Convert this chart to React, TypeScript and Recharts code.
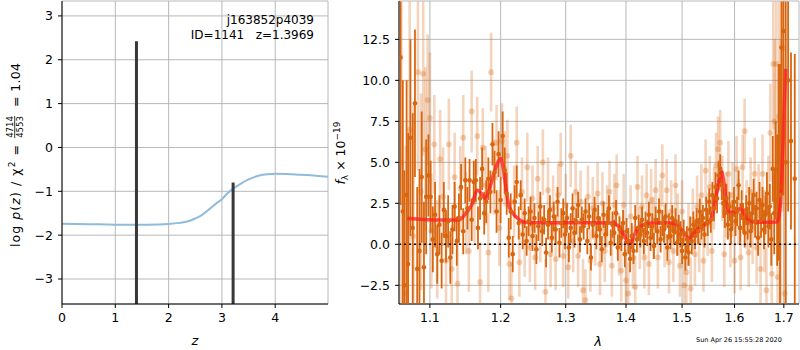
import React from "react";
import {
  ComposedChart,
  Line,
  Scatter,
  ErrorBar,
  XAxis,
  YAxis,
  CartesianGrid,
  ReferenceLine,
} from "recharts";

// ---- left panel: log p(z)
const zGrid = [0, 0.5, 1.0, 1.4, 1.8, 2.0, 2.2, 2.4, 2.5, 2.6, 2.75, 2.9, 3.0, 3.1, 3.2, 3.35, 3.5, 3.7, 3.85, 4.0, 4.3, 4.6, 4.99];
const logPz = [-1.74, -1.75, -1.76, -1.76, -1.755, -1.745, -1.72, -1.67, -1.62, -1.56, -1.42, -1.27, -1.18, -1.05, -0.95, -0.83, -0.73, -0.64, -0.61, -0.6, -0.61, -0.63, -0.67];
const peakZ = [1.397, 3.21];
const peakTop = [2.42, -0.8];
const zTicks = [0, 1, 2, 3, 4];
const logpTicks = [-3, -2, -1, 0, 1, 2, 3];
const zDomain = [0, 4.99];
const logpDomain = [-3.57, 3.34];

// ---- right panel: spectrum
const lamTicks = [1.1, 1.2, 1.3, 1.4, 1.5, 1.6, 1.7];
const fluxTicks = [-2.5, 0, 2.5, 5, 7.5, 10, 12.5];
const lamDomain = [1.059, 1.732];
const fluxDomain = [-3.64, 14.84];

const darkLam = [
  1.061, 1.064, 1.066, 1.069, 1.071, 1.074, 1.077, 1.080, 1.083, 1.086, 1.089, 1.092, 1.095,
  1.098, 1.101, 1.104, 1.107, 1.110, 1.113, 1.116, 1.119, 1.122, 1.125, 1.128, 1.131, 1.134, 1.137, 1.140,
  1.143, 1.146, 1.149, 1.152, 1.155, 1.158, 1.161, 1.164, 1.167, 1.170, 1.173, 1.176, 1.179, 1.182, 1.185, 1.188, 1.191, 1.194, 1.197,
  1.200, 1.203, 1.206, 1.209, 1.212, 1.215, 1.218, 1.221, 1.224, 1.227, 1.230, 1.233, 1.236, 1.239, 1.242, 1.245, 1.248,
  1.251, 1.254, 1.257, 1.260, 1.263, 1.266, 1.269, 1.272, 1.275, 1.278, 1.281, 1.284, 1.287, 1.290, 1.293, 1.296, 1.299,
  1.302, 1.305, 1.308, 1.311, 1.314, 1.317, 1.320, 1.323, 1.326, 1.329, 1.332, 1.335, 1.338, 1.341, 1.344, 1.347, 1.350,
  1.353, 1.356, 1.359, 1.362, 1.365, 1.368, 1.371, 1.374, 1.377, 1.380, 1.383, 1.386, 1.389, 1.392, 1.395, 1.398, 1.401,
  1.404, 1.407, 1.410, 1.413, 1.416, 1.419, 1.422, 1.425, 1.428, 1.431, 1.434, 1.437, 1.440, 1.443, 1.446, 1.449, 1.452,
  1.455, 1.458, 1.461, 1.464, 1.467, 1.470, 1.473, 1.476, 1.479, 1.482, 1.485, 1.488, 1.491, 1.494, 1.497, 1.500, 1.503,
  1.506, 1.509, 1.512, 1.515, 1.518, 1.521, 1.524, 1.527, 1.530, 1.533, 1.536, 1.539, 1.542, 1.545, 1.548, 1.551, 1.554,
  1.557, 1.560, 1.563, 1.566, 1.569, 1.572, 1.575, 1.578, 1.581, 1.584, 1.587, 1.590, 1.593, 1.596, 1.599, 1.602, 1.605,
  1.608, 1.611, 1.614, 1.617, 1.620, 1.623, 1.626, 1.629, 1.632, 1.635, 1.638, 1.641, 1.644, 1.647, 1.650, 1.653, 1.656,
  1.659, 1.662, 1.665, 1.668, 1.671, 1.674, 1.677, 1.680, 1.683, 1.686, 1.689, 1.692, 1.695, 1.699, 1.704, 1.709, 1.715, 1.723,
];
const darkFlux = [
  11.4, 2.0, -2.5, 3.0, -1.2, 6.5, 1.0, 8.6, -1.5, -0.4, 4.1, -1.4, 2.9,
  4.2, 2.9, 0.3, 1.8, -0.6, 1.2, -1.0, 2.1, 0.5, 1.4, -0.8, 0.9, 2.3, 0.2, 1.6,
  3.5, 0.8, 3.9, 2.2, 3.9, 1.5, 3.8, 3.9, 1.0, 2.8, 4.6, 1.9, 2.6, 4.0, 3.2, 6.1, 4.4, 2.0, 5.5,
  2.7, 6.6, 4.5, 3.1, 0.4, 2.0, -0.6, 2.6, 3.8, 1.3, 3.0, 0.6, 1.9, 0.2, 1.4, 2.0, 0.5,
  1.6, -0.3, 1.1, 2.3, 0.8, 1.5, -0.5, 1.2, 2.1, 0.4, 1.7, 0.9, 2.6, 0.1, 1.3, 1.9, 0.6,
  1.6, -0.2, 1.0, 2.2, 0.7, 1.4, 2.4, 0.3, 1.5, 1.1, 2.0, 0.2, 1.7, -0.8, 1.2, 2.1, 0.5,
  1.6, 0.9, -0.3, 1.8, 0.6, 1.3, 2.2, 0.1, 1.2, 0.7, 1.9, -0.2, 0.9, 0.4, 1.3, -0.6, 0.8,
  0.2, -0.9, 0.5, -0.4, 1.6, 0.3, 1.0, 0.6, 1.5, 0.2, 1.2, 0.7, 1.8, 0.4, 1.1, -0.1, 1.5,
  0.8, 2.0, 0.3, 1.3, 0.9, 1.7, -0.2, 1.1, 0.5, 1.6, 0.8, 1.4, 0.1, 1.0, 0.6, -0.4, 0.7,
  -0.8, 0.3, -0.5, 0.9, 0.2, 1.2, 0.5, 1.4, 0.8, 2.0, 1.1, 1.6, 0.6, 2.1, 1.3, 2.6, 1.5,
  3.0, 2.2, 3.5, 2.8, 4.2, 4.6, 3.6, 2.5, 1.9, 2.8, 1.2, 2.3, 0.9, 1.8, 2.6, 1.4, 2.0,
  3.6, 1.0, 2.4, 1.6, 0.7, 2.1, 1.3, 2.5, 0.8, 1.9, 3.0, 1.4, 2.2, 0.4, 2.7, 1.5, 2.4,
  0.9, 1.8, 3.1, 1.1, 2.3, 0.3, 4.6, 1.9, 4.5, 2.7, 5.0, 3.0, 12.0, 13.0, 5.0, 10.0, 6.3, 4.0,
];
const darkErr = [
  9, 8, 7, 7, 8, 6, 7, 4.5, 5, 5, 4, 4, 3.5,
  2.5, 2.2, 2.0, 2.0, 1.8, 1.8, 1.7, 1.7, 1.6, 1.6, 1.6, 1.5, 1.5, 1.5, 1.5,
  1.4, 1.4, 1.4, 1.3, 1.3, 1.3, 1.3, 1.3, 1.3, 1.3, 1.3, 1.3, 1.3, 1.3, 1.3, 1.3, 1.3, 1.3, 1.4,
  1.4, 1.5, 1.4, 1.3, 1.2, 1.1, 1.1, 1.0, 1.0, 1.0, 0.9, 0.9, 0.9, 0.9, 0.9, 0.9, 0.9,
  0.9, 0.9, 0.9, 0.9, 0.9, 0.9, 0.9, 0.9, 0.9, 0.9, 0.9, 0.9, 0.9, 0.9, 0.9, 0.9, 0.9,
  0.9, 0.9, 0.9, 0.9, 0.9, 0.8, 0.8, 0.8, 0.8, 0.8, 0.8, 0.8, 0.8, 0.8, 0.8, 0.8, 0.8,
  0.8, 0.8, 0.8, 0.8, 0.8, 0.8, 0.8, 0.8, 0.8, 0.8, 0.8, 0.8, 0.8, 0.8, 0.8, 0.8, 0.8,
  0.8, 0.8, 0.8, 0.8, 0.8, 0.8, 0.8, 0.8, 0.8, 0.8, 0.8, 0.8, 0.8, 0.8, 0.8, 0.8, 0.8,
  0.8, 0.8, 0.8, 0.8, 0.8, 0.8, 0.8, 0.8, 0.8, 0.8, 0.8, 0.8, 0.8, 0.8, 0.8, 0.8, 0.8,
  0.8, 0.8, 0.8, 0.8, 0.8, 0.8, 0.8, 0.8, 0.8, 0.8, 0.8, 0.8, 0.8, 0.8, 0.8, 0.8, 0.8,
  0.8, 0.8, 0.9, 0.9, 0.9, 0.9, 0.9, 0.9, 0.9, 0.9, 0.9, 0.9, 0.9, 0.9, 0.9, 0.9, 0.9,
  0.9, 0.9, 0.9, 0.9, 0.9, 0.9, 1.0, 1.0, 1.0, 1.0, 1.0, 1.0, 1.0, 1.1, 1.1, 1.1, 1.1,
  1.2, 1.2, 1.3, 1.3, 1.4, 1.6, 2.0, 2.5, 3.0, 4, 6, 8, 9, 10, 12, 8, 5.4, 7.6,
];

const lightLam = [
  1.062, 1.068, 1.073, 1.078, 1.084, 1.088, 1.091, 1.094, 1.097, 1.100, 1.102, 1.106, 1.110, 1.114, 1.118,
  1.122, 1.126, 1.130, 1.134, 1.138, 1.142, 1.146, 1.150, 1.154, 1.158, 1.162, 1.166, 1.170, 1.174, 1.178,
  1.182, 1.186, 1.190, 1.194, 1.198, 1.202, 1.206, 1.210, 1.213, 1.216, 1.220, 1.224, 1.228, 1.232, 1.236,
  1.240, 1.244, 1.248, 1.252, 1.256, 1.260, 1.264, 1.268, 1.272, 1.276, 1.280, 1.284, 1.288, 1.292, 1.296,
  1.300, 1.304, 1.308, 1.312, 1.316, 1.320, 1.324, 1.328, 1.332, 1.336, 1.340, 1.344, 1.348, 1.352, 1.356,
  1.360, 1.364, 1.368, 1.372, 1.376, 1.380, 1.384, 1.388, 1.392, 1.396, 1.400, 1.404, 1.408, 1.412, 1.416,
  1.420, 1.424, 1.428, 1.432, 1.436, 1.440, 1.444, 1.448, 1.452, 1.456, 1.460, 1.464, 1.468, 1.472, 1.476,
  1.480, 1.484, 1.488, 1.492, 1.496, 1.500, 1.504, 1.508, 1.512, 1.516, 1.520, 1.524, 1.528, 1.532, 1.536,
  1.540, 1.544, 1.548, 1.552, 1.556, 1.560, 1.564, 1.568, 1.572, 1.576, 1.580, 1.584, 1.588, 1.592, 1.596,
  1.600, 1.604, 1.608, 1.612, 1.616, 1.620, 1.624, 1.628, 1.632, 1.636, 1.640, 1.644, 1.648, 1.652, 1.656,
  1.660, 1.664, 1.668, 1.672, 1.675, 1.678, 1.681, 1.684, 1.687, 1.690, 1.694, 1.698, 1.702,
];
const lightFlux = [
  5.0, -3.0, 7.0, 0.5, 10.5, 3.2, 10.4, 5.8, 8.8, 7.7, 0.8, 6.1, -0.3, 5.2, 2.9,
  -1.0, 6.1, -1.5, 4.1, -2.4, 3.4, 6.5, 1.9, -0.4, 8.1, 2.6, 6.6, -2.3, 5.9, 3.6,
  -0.5, 10.5, 4.1, 6.2, 1.0, 6.3, 4.6, 5.4, -1.2, -3.3, 2.6, 6.2, -1.1, 3.2, 0.1,
  4.7, -0.2, 2.8, -0.8, 4.0, 0.9, 5.0, -2.9, 3.3, -0.6, 2.2, -0.9, 3.0, 4.9, -0.7,
  2.4, -1.4, 5.4, 0.2, 3.2, -0.7, 2.6, -2.8, -3.4, 2.9, -1.0, 2.2, 0.6, 3.1, -1.2,
  2.5, -0.4, 1.7, 3.2, -1.3, 2.4, 3.6, 0.0, -1.6, 2.4, -2.2, -3.0, 1.7, -0.8, -2.6,
  3.5, 0.4, 2.3, -0.8, 3.0, -1.2, 2.7, 1.0, 3.3, -0.8, 2.0, 4.2, 0.5, 3.3, -1.1,
  2.0, -0.4, 3.6, 1.2, -1.3, 2.0, -2.5, -1.7, 0.6, -2.7, 1.5, -0.6, 2.3, 0.2, 3.0,
  -1.0, 4.5, 1.2, 3.5, -0.4, 2.8, 4.8, 5.8, 6.2, 3.4, -0.6, 2.4, 4.3, 0.6, 3.0,
  -1.0, 4.6, 2.0, -0.8, 4.7, 6.9, 1.8, -0.5, 3.2, 1.0, 4.3, -0.2, 2.6, -1.5, 4.3,
  0.8, -2.8, 2.7, 6.8, -1.8, 11.0, 7.5, 11.0, -2.0, 7.8, 3.5, 12.0, -3.0,
];
const lightErr = [
  10, 9, 8, 8, 6, 6, 5, 5, 4, 4, 3.5, 3, 3, 3, 3,
  2.8, 2.8, 2.7, 2.7, 2.6, 2.6, 2.6, 2.5, 2.5, 2.5, 2.5, 2.4, 2.4, 2.4, 2.4,
  2.4, 2.4, 2.3, 2.3, 2.3, 2.3, 2.3, 2.2, 2.2, 2.2, 2.2, 2.2, 2.1, 2.1, 2.1,
  2.1, 2.1, 2.0, 2.0, 2.0, 2.0, 2.0, 2.0, 2.0, 2.0, 2.0, 1.9, 1.9, 1.9, 1.9,
  1.9, 1.9, 1.9, 1.9, 1.9, 1.9, 1.9, 1.9, 1.9, 1.9, 1.9, 1.9, 1.9, 1.9, 1.9,
  1.9, 1.9, 1.9, 1.9, 1.9, 1.9, 1.9, 1.9, 1.9, 1.9, 1.9, 1.9, 1.9, 1.9, 1.9,
  1.9, 1.9, 1.9, 1.9, 1.9, 1.9, 1.9, 1.9, 1.9, 1.9, 1.9, 1.9, 1.9, 1.9, 1.9,
  1.9, 1.9, 1.9, 1.9, 1.9, 1.9, 1.9, 1.9, 1.9, 1.9, 1.9, 1.9, 1.9, 1.9, 1.9,
  1.9, 1.9, 1.9, 1.9, 1.9, 1.9, 2.0, 2.0, 2.0, 2.0, 2.0, 2.0, 2.0, 2.0, 2.0,
  2.0, 2.0, 2.0, 2.0, 2.0, 2.0, 2.1, 2.1, 2.1, 2.2, 2.2, 2.2, 2.3, 2.3, 2.4,
  2.5, 2.6, 2.7, 3, 3.5, 4, 5, 6, 7, 8, 9, 10, 10,
];

// red model curve
const modelLam = [
  1.07, 1.09, 1.12, 1.14, 1.15, 1.158, 1.166, 1.172, 1.177, 1.183, 1.19, 1.196, 1.2, 1.204, 1.208,
  1.212, 1.218, 1.225, 1.235, 1.26, 1.3, 1.34, 1.378, 1.388, 1.396, 1.406, 1.414, 1.422, 1.432, 1.445,
  1.465, 1.48, 1.49, 1.5, 1.508, 1.513, 1.52, 1.53, 1.545, 1.553, 1.56, 1.566, 1.571, 1.575, 1.579,
  1.585, 1.592, 1.6, 1.606, 1.611, 1.617, 1.625, 1.635, 1.655, 1.686, 1.692, 1.697, 1.701, 1.704,
];
const modelFlux = [
  1.58, 1.52, 1.48, 1.48, 1.9, 2.4, 3.3, 3.1, 2.8, 3.3, 4.3, 5.0, 5.24, 4.6, 3.4,
  2.4, 1.9, 1.6, 1.35, 1.32, 1.31, 1.31, 1.3, 1.05, 0.6, 0.0, 0.55, 1.0, 1.2, 1.3,
  1.32, 1.3, 1.2, 0.85, 0.5, 0.37, 0.6, 0.95, 1.25, 1.45, 2.2, 3.2, 4.1, 4.43, 3.8,
  2.4, 1.95, 1.93, 2.05, 2.2, 1.95, 1.55, 1.37, 1.34, 1.36, 2.2, 5.0, 8.5, 10.7,
];

const darkData = darkLam.map((lam, i) => ({ lam, f: darkFlux[i], e: darkErr[i] }));
const lightData = lightLam.map((lam, i) => ({ lam, f: lightFlux[i], e: lightErr[i] }));
const modelData = modelLam.map((lam, i) => ({ lam, f: modelFlux[i] }));
const pzData = zGrid.map((z, i) => ({ z, v: logPz[i] }));
const peakData = peakZ.map((z, i) => [
  { z, v: logpDomain[0] },
  { z, v: peakTop[i] },
]);

const FONT = "DejaVu Sans";
const ORANGE = "#d9660e";
const tickStyle = { fontSize: 12.5, fill: "#000", fontFamily: FONT };
const minus = (s: string) => s.replace("-", "\u2212");

const DarkDot = (p: any) => <circle cx={p.cx} cy={p.cy} r={2.3} fill={ORANGE} />;
const LightDot = (p: any) => (
  <circle cx={p.cx} cy={p.cy} r={2.9} fill={ORANGE} fillOpacity={0.3} />
);

const specMargin = { top: 1, right: 1, bottom: 16, left: 0 };

export default function App() {
  return (
    <div
      style={{
        position: "absolute",
        left: 0,
        top: 0,
        width: 800,
        height: 350,
        background: "#fff",
        fontFamily: FONT,
      }}
    >
      {/* p(z) panel */}
      <div style={{ position: "absolute", left: 0, top: 0 }}>
        <ComposedChart width={340} height={350} margin={{ top: 1, right: 12, bottom: 16, left: 0 }}>
          <CartesianGrid stroke="#b0b0b0" strokeWidth={0.9} />
          <XAxis
            dataKey="z"
            type="number"
            domain={zDomain}
            ticks={zTicks}
            allowDataOverflow
            height={30}
            tickSize={4}
            tickMargin={5}
            tick={tickStyle}
            stroke="#000"
          />
          <XAxis xAxisId="top" orientation="top" type="number" domain={[0, 1]} height={0} tick={false} tickLine={false} stroke="#000" />
          <YAxis
            type="number"
            domain={logpDomain}
            ticks={logpTicks}
            allowDataOverflow
            width={62}
            tickSize={4}
            tickMargin={5}
            tick={tickStyle}
            tickFormatter={(v: number) => minus(String(v))}
            stroke="#000"
          />
          <YAxis yAxisId="right" orientation="right" type="number" domain={[0, 1]} width={0} tick={false} tickLine={false} stroke="#000" />
          <Line
            data={pzData}
            dataKey="v"
            type="monotone"
            stroke="#8fbbdc"
            strokeWidth={2}
            dot={false}
            isAnimationActive={false}
          />
          {peakData.map((d, i) => (
            <Line
              key={i}
              data={d}
              dataKey="v"
              stroke="#383838"
              strokeWidth={3}
              dot={false}
              isAnimationActive={false}
            />
          ))}
        </ComposedChart>
      </div>

      {/* spectrum panel: axes + grid */}
      <div style={{ position: "absolute", left: 340, top: 0 }}>
        <ComposedChart width={460} height={350} margin={specMargin}>
          <CartesianGrid stroke="#b0b0b0" strokeWidth={0.9} />
          <XAxis
            dataKey="lam"
            type="number"
            scale="log"
            domain={lamDomain}
            ticks={lamTicks}
            allowDataOverflow
            height={30}
            tickSize={4}
            tickMargin={5}
            tick={tickStyle}
            stroke="#000"
          />
          <XAxis xAxisId="top" orientation="top" type="number" domain={[0, 1]} height={0} tick={false} tickLine={false} stroke="#000" />
          <YAxis
            dataKey="f"
            type="number"
            domain={fluxDomain}
            ticks={fluxTicks}
            allowDataOverflow
            width={59}
            tickSize={4}
            tickMargin={5}
            tick={tickStyle}
            tickFormatter={(v: number) => minus(v.toFixed(1))}
            stroke="#000"
          />
          <YAxis yAxisId="right" orientation="right" type="number" domain={[0, 1]} width={0} tick={false} tickLine={false} stroke="#000" />
          <Line data={modelData} dataKey="f" stroke="none" dot={false} isAnimationActive={false} />
        </ComposedChart>
      </div>

      {/* spectrum panel: data, clipped to the plot area */}
      <div
        style={{
          position: "absolute",
          left: 340,
          top: 0,
          clipPath: "inset(1.5px 1.5px 46.5px 59.5px)",
        }}
      >
        <ComposedChart width={460} height={350} margin={specMargin}>
          <XAxis
            dataKey="lam"
            type="number"
            scale="log"
            domain={lamDomain}
            ticks={lamTicks}
            allowDataOverflow
            height={30}
            tick={false}
            tickLine={false}
            axisLine={false}
          />
          <XAxis xAxisId="top" orientation="top" type="number" domain={[0, 1]} height={0} tick={false} tickLine={false} axisLine={false} />
          <YAxis
            dataKey="f"
            type="number"
            domain={fluxDomain}
            ticks={fluxTicks}
            allowDataOverflow
            width={59}
            tick={false}
            tickLine={false}
            axisLine={false}
          />
          <YAxis yAxisId="right" orientation="right" type="number" domain={[0, 1]} width={0} tick={false} tickLine={false} axisLine={false} />
          <Scatter data={lightData} shape={LightDot} isAnimationActive={false}>
            <ErrorBar dataKey="e" direction="y" width={0} stroke="rgba(217,102,14,0.28)" strokeWidth={2.6} />
          </Scatter>
          <Scatter data={darkData} shape={DarkDot} isAnimationActive={false}>
            <ErrorBar dataKey="e" direction="y" width={0} stroke={ORANGE} strokeWidth={1.8} />
          </Scatter>
          <Line
            data={modelData}
            dataKey="f"
            type="monotone"
            stroke="#ff1f1f"
            strokeOpacity={0.78}
            strokeWidth={3.5}
            dot={false}
            isAnimationActive={false}
          />
          <ReferenceLine y={0} stroke="#000" strokeWidth={1.6} strokeDasharray="2 3" />
        </ComposedChart>
      </div>

      {/* labels */}
      <svg
        width={800}
        height={350}
        style={{ position: "absolute", left: 0, top: 0, pointerEvents: "none" }}
        fontFamily={FONT}
      >
        <text x={314} y={24} textAnchor="end" fontSize={12}>
          j163852p4039
        </text>
        <text x={314} y={39} textAnchor="end" fontSize={12} style={{ whiteSpace: "pre" }}>
          ID=1141   z=1.3969
        </text>
        <text x={195} y={345} textAnchor="middle" fontSize={13} fontStyle="italic">
          z
        </text>
        <text x={598} y={346} textAnchor="middle" fontSize={13} fontStyle="italic">
          λ
        </text>
        <text x={696} y={342} fontSize={6.5}>
          Sun Apr 26 15:55:28 2020
        </text>
        <g transform="translate(20,155) rotate(-90)" fontSize={12.5}>
          <text x={-92} y={0} textLength={102} lengthAdjust="spacing" style={{ whiteSpace: "pre" }}>
            {"log "}
            <tspan fontStyle="italic">p</tspan>
            {"("}
            <tspan fontStyle="italic">z</tspan>
            {") / χ"}
            <tspan fontSize={9} dy={-5}>2</tspan>
            <tspan dy={5}>{" ="}</tspan>
          </text>
          <text x={28} y={-7} textAnchor="middle" fontSize={8.5}>
            4714
          </text>
          <line x1={17} x2={39} y1={-5.3} y2={-5.3} stroke="#000" strokeWidth={0.8} />
          <text x={28} y={2.5} textAnchor="middle" fontSize={8.5}>
            4553
          </text>
          <text x={48} y={0} textLength={44} lengthAdjust="spacing" style={{ whiteSpace: "pre" }}>
            = 1.04
          </text>
        </g>
        <g transform="translate(345,153) rotate(-90)" fontSize={12.5}>
          <text x={0} y={0} textAnchor="middle">
            <tspan fontStyle="italic">f</tspan>
            <tspan fontSize={9} dy={3}>λ</tspan>
            <tspan dy={-3}>{" × 10"}</tspan>
            <tspan fontSize={9} dy={-5}>−19</tspan>
          </text>
        </g>
      </svg>
    </div>
  );
}
